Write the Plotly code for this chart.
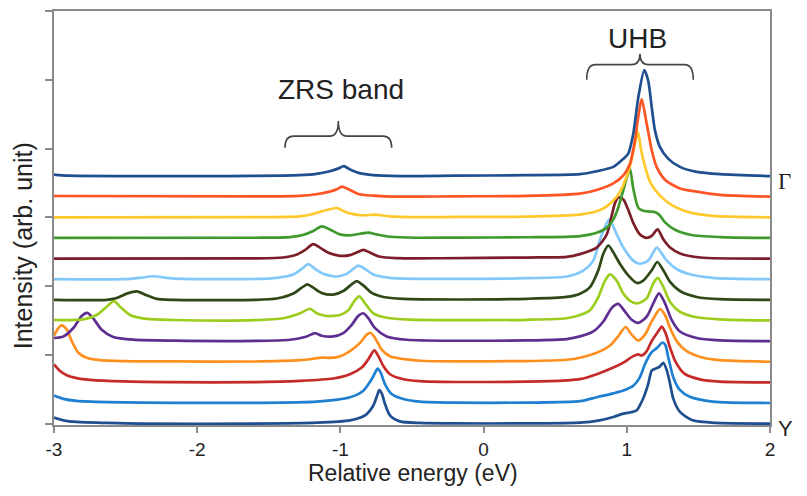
import plotly.graph_objects as go

# ---- data: energies (eV) and intensities above each spectrum's own baseline (arb. unit) ----
# spectra listed from bottom (Y point) to top (Gamma point)
x0 = [-3.0, -2.935, -2.84, -2.63, -2.4, -1.6, -1.165, -0.933, -0.828, -0.77, -0.742, -0.728, -0.71, -0.689, -0.654, -0.584, -0.444, -0.2, 0.3, 0.673, 0.81, 0.906, 0.976, 1.03, 1.07, 1.1, 1.127, 1.15, 1.174, 1.2, 1.23, 1.255, 1.28, 1.3, 1.325, 1.371, 1.46, 1.63, 2.0]
h0 = [0.87, 0.48, 0.24, 0.1, 0, 0, 0.14, 0.48, 1.2, 2.64, 4.18, 4.86, 4.33, 2.89, 1.2, 0.33, 0.1, 0.03, 0.03, 0.14, 0.48, 0.97, 1.45, 1.65, 1.95, 3.0, 4.3, 5.8, 7.7, 8.0, 8.3, 8.85, 7.7, 6.0, 3.6, 1.7, 0.48, 0.1, 0]

x1 = [-3.0, -2.935, -2.842, -2.632, -2.167, -1.6, -1.165, -0.933, -0.84, -0.781, -0.751, -0.74, -0.719, -0.689, -0.642, -0.561, -0.444, -0.2, 0.3, 0.673, 0.79, 0.906, 0.976, 1.045, 1.09, 1.13, 1.17, 1.21, 1.25, 1.27, 1.29, 1.325, 1.37, 1.44, 1.6, 2.0]
h1 = [1.07, 0.6, 0.3, 0.12, 0.02, 0.02, 0.2, 0.84, 1.79, 3.48, 4.68, 5.0, 4.44, 2.76, 1.31, 0.59, 0.2, 0.05, 0.05, 0.26, 0.84, 1.4, 1.8, 2.5, 3.7, 5.8, 7.3, 8.0, 8.8, 8.4, 6.6, 3.7, 1.9, 0.9, 0.2, 0]

x2 = [-3.0, -2.958, -2.911, -2.841, -2.749, -2.516, -2.167, -1.6, -1.282, -1.05, -0.933, -0.851, -0.805, -0.763, -0.735, -0.7, -0.654, -0.561, -0.444, -0.2, 0.3, 0.58, 0.673, 0.79, 0.906, 0.976, 1.045, 1.08, 1.104, 1.139, 1.174, 1.22, 1.244, 1.27, 1.30, 1.34, 1.40, 1.51, 1.65, 2.0]
h2 = [2.6, 1.66, 1.04, 0.61, 0.36, 0.13, 0.03, 0.03, 0.22, 0.56, 1.18, 2.15, 3.35, 4.65, 3.82, 2.38, 1.18, 0.46, 0.17, 0.05, 0.1, 0.29, 0.46, 1.18, 2.15, 2.87, 3.82, 4.07, 3.9, 4.55, 6.0, 7.43, 8.1, 7.2, 5.2, 3.0, 1.3, 0.43, 0.1, 0]

x3 = [-3.0, -2.97, -2.946, -2.911, -2.876, -2.83, -2.772, -2.679, -2.516, -2.167, -1.6, -1.282, -1.2, -1.13, -1.07, -1.0, -0.933, -0.863, -0.816, -0.788, -0.758, -0.712, -0.654, -0.537, -0.444, -0.2, 0.3, 0.58, 0.673, 0.79, 0.883, 0.94, 0.992, 1.034, 1.08, 1.127, 1.174, 1.232, 1.267, 1.302, 1.348, 1.418, 1.534, 1.651, 2.0]
h3 = [3.8, 4.9, 5.3, 4.7, 3.0, 1.3, 0.58, 0.23, 0.09, 0.04, 0.03, 0.23, 0.4, 0.6, 0.55, 0.8, 1.53, 2.74, 3.94, 4.18, 3.46, 1.77, 0.81, 0.33, 0.14, 0.05, 0.1, 0.29, 0.58, 1.3, 2.35, 3.7, 5.05, 3.94, 3.1, 3.94, 5.86, 7.65, 6.8, 4.9, 3.0, 1.53, 0.58, 0.23, 0]

x4 = [-3.0, -2.935, -2.865, -2.807, -2.767, -2.726, -2.667, -2.586, -2.446, -2.167, -1.6, -1.352, -1.235, -1.177, -1.131, -1.05, -0.98, -0.921, -0.875, -0.84, -0.805, -0.758, -0.677, -0.537, -0.2, 0.3, 0.58, 0.673, 0.766, 0.836, 0.894, 0.94, 0.987, 1.034, 1.08, 1.139, 1.185, 1.225, 1.267, 1.313, 1.371, 1.488, 1.651, 2.0]
h4 = [0.45, 0.68, 1.9, 3.65, 4.1, 3.3, 1.65, 0.6, 0.2, 0.06, 0.03, 0.2, 0.68, 1.17, 0.78, 0.68, 1.17, 2.37, 3.67, 4.05, 3.33, 1.89, 0.68, 0.2, 0.05, 0.1, 0.3, 0.68, 1.4, 2.85, 4.8, 5.4, 4.3, 3.1, 2.65, 3.55, 5.5, 6.95, 5.5, 3.1, 1.4, 0.45, 0.1, 0]

x5 = [-3.0, -2.795, -2.702, -2.632, -2.581, -2.539, -2.469, -2.353, -2.167, -1.6, -1.399, -1.282, -1.212, -1.165, -1.096, -1.003, -0.945, -0.898, -0.868, -0.828, -0.77, -0.677, -0.514, -0.2, 0.3, 0.58, 0.673, 0.743, 0.801, 0.848, 0.883, 0.929, 0.976, 1.034, 1.08, 1.139, 1.185, 1.216, 1.255, 1.302, 1.371, 1.488, 1.651, 2.0]
h5 = [0.07, 0.17, 0.8, 2.0, 2.8, 2.0, 0.8, 0.22, 0.07, 0.05, 0.32, 1.04, 1.7, 1.04, 0.65, 0.79, 1.5, 2.96, 3.5, 2.5, 1.04, 0.4, 0.12, 0.05, 0.1, 0.32, 0.8, 1.5, 3.4, 5.8, 6.7, 5.8, 3.9, 2.7, 2.5, 3.2, 5.4, 6.2, 4.9, 2.7, 1.27, 0.46, 0.17, 0]

x6 = [-3.0, -2.632, -2.562, -2.492, -2.422, -2.353, -2.283, -2.167, -1.6, -1.445, -1.329, -1.27, -1.231, -1.19, -1.131, -1.05, -0.98, -0.921, -0.886, -0.84, -0.781, -0.7, -0.561, -0.2, 0.3, 0.58, 0.673, 0.743, 0.801, 0.836, 0.871, 0.906, 0.953, 1.01, 1.07, 1.115, 1.174, 1.213, 1.255, 1.302, 1.371, 1.488, 1.651, 2.0]
h6 = [0.0, 0.0, 0.27, 0.9, 1.24, 0.66, 0.13, 0.0, 0.0, 0.19, 0.91, 1.77, 2.25, 1.77, 1.0, 0.76, 1.28, 2.25, 2.73, 2.1, 1.0, 0.42, 0.13, 0.05, 0.15, 0.42, 0.9, 1.86, 4.3, 6.7, 7.9, 6.9, 5.2, 3.55, 2.45, 2.8, 4.3, 5.5, 4.3, 2.6, 1.28, 0.42, 0.09, 0]

x7 = [-3.0, -2.516, -2.4, -2.306, -2.213, -2.1, -1.6, -1.445, -1.329, -1.27, -1.224, -1.177, -1.119, -1.026, -0.956, -0.91, -0.875, -0.828, -0.77, -0.654, -0.4, 0.0, 0.3, 0.58, 0.696, 0.766, 0.81, 0.845, 0.878, 0.929, 0.976, 1.045, 1.09, 1.15, 1.209, 1.255, 1.28, 1.35, 1.44, 1.6, 2.0]
h7 = [0.0, 0.0, 0.2, 0.43, 0.2, 0.05, 0.03, 0.2, 0.68, 1.5, 2.2, 1.5, 0.78, 0.39, 0.78, 1.5, 1.98, 1.5, 0.68, 0.2, 0.05, 0.05, 0.15, 0.39, 1.25, 2.7, 5.6, 7.5, 8.7, 6.55, 4.6, 2.7, 2.25, 2.7, 4.6, 3.4, 2.7, 1.45, 0.72, 0.2, 0]

x8 = [-3.0, -1.6, -1.401, -1.308, -1.249, -1.19, -1.143, -1.087, -1.003, -0.933, -0.887, -0.84, -0.794, -0.723, -0.607, -0.3, 0.3, 0.58, 0.673, 0.79, 0.86, 0.894, 0.918, 0.94, 0.976, 1.01, 1.045, 1.092, 1.139, 1.174, 1.215, 1.255, 1.302, 1.372, 1.511, 2.0]
h8 = [0, 0.03, 0.16, 0.55, 1.22, 2.1, 1.6, 0.88, 0.4, 0.5, 0.88, 1.27, 0.88, 0.26, 0.07, 0.05, 0.15, 0.26, 0.65, 1.6, 3.5, 6.2, 8.1, 8.9, 8.6, 7.1, 5.2, 3.5, 3.0, 3.3, 4.25, 2.8, 1.6, 0.74, 0.16, 0]

x9 = [-3.0, -1.6, -1.352, -1.262, -1.19, -1.131, -1.073, -1.003, -0.933, -0.863, -0.805, -0.747, -0.654, -0.467, -0.2, 0.3, 0.673, 0.79, 0.86, 0.906, 0.94, 0.976, 0.999, 1.022, 1.045, 1.08, 1.11, 1.15, 1.2, 1.23, 1.265, 1.34, 1.45, 1.65, 2.0]
h9 = [0, 0.03, 0.13, 0.42, 1.0, 1.68, 1.24, 0.52, 0.38, 0.61, 0.78, 0.52, 0.17, 0.03, 0.05, 0.1, 0.27, 0.75, 1.47, 2.7, 4.4, 7.0, 8.7, 10.1, 7.2, 4.4, 4.0, 3.85, 3.75, 3.3, 2.3, 1.15, 0.43, 0.13, 0]

x10 = [-3.0, -1.6, -1.285, -1.192, -1.134, -1.087, -1.024, -0.982, -0.936, -0.843, -0.762, -0.657, -0.47, -0.2, 0.3, 0.673, 0.79, 0.86, 0.93, 0.976, 1.022, 1.057, 1.078, 1.1, 1.13, 1.165, 1.23, 1.32, 1.44, 1.6, 2.0]
h10 = [0, 0.03, 0.14, 0.48, 0.87, 1.1, 1.35, 0.96, 0.58, 0.29, 0.39, 0.14, 0.03, 0.05, 0.1, 0.4, 0.87, 1.6, 3.0, 4.7, 7.4, 10.7, 12.4, 9.8, 7.2, 5.05, 3.2, 1.7, 0.72, 0.22, 0]

x11 = [-3.0, -1.6, -1.285, -1.168, -1.075, -1.024, -0.989, -0.934, -0.876, -0.775, -0.589, -0.2, 0.3, 0.673, 0.79, 0.906, 0.976, 1.022, 1.057, 1.08, 1.104, 1.139, 1.174, 1.209, 1.27, 1.371, 1.488, 1.651, 2.0]
h11 = [0.1, 0.03, 0.11, 0.35, 0.74, 1.07, 1.46, 0.98, 0.4, 0.16, 0.0, 0.05, 0.12, 0.45, 0.98, 1.94, 3.1, 4.8, 8.2, 11.6, 14.2, 10.6, 6.75, 4.3, 2.4, 1.2, 0.74, 0.26, 0]

x12 = [-3.0, -2.9, -1.6, -1.285, -1.168, -1.075, -1.017, -0.976, -0.936, -0.866, -0.773, -0.587, -0.2, 0.3, 0.673, 0.79, 0.906, 0.976, 1.01, 1.045, 1.08, 1.122, 1.15, 1.174, 1.197, 1.232, 1.29, 1.371, 1.488, 1.651, 2.0]
h12 = [0.2, 0.05, 0.03, 0.13, 0.32, 0.7, 1.08, 1.43, 1.0, 0.42, 0.13, 0.0, 0.05, 0.12, 0.27, 0.7, 1.33, 2.5, 3.25, 6.1, 11.4, 15.4, 13.8, 10.0, 6.6, 4.2, 2.5, 1.33, 0.6, 0.27, 0]

energies = [x0, x1, x2, x3, x4, x5, x6, x7, x8, x9, x10, x11, x12]
intensities = [h0, h1, h2, h3, h4, h5, h6, h7, h8, h9, h10, h11, h12]
colors = ['#1f4f8f', '#1f80d2', '#c62a28', '#ff9020', '#5e2f91', '#9ccd1e', '#2f4818',
          '#82c8fb', '#7c1e2a', '#3e9a2c', '#ffc92e', '#ff5424', '#1f4f8f']
OFFSET = 3.0  # vertical stacking step between spectra

x_ticks = [-3, -2, -1, 0, 1, 2]
x_tick_text = ['-3', '-2', '-1', '0', '1', '2']
y_ticks = [0, 10, 20, 30, 40, 50, 60]

FONT = 'Liberation Sans, Arial, sans-serif'
AX = '#8a8a8a'

fig = go.Figure()
for i, (xs, hs) in enumerate(zip(energies, intensities)):
    fig.add_trace(go.Scatter(
        x=xs, y=[v + OFFSET * i for v in hs], mode='lines',
        line=dict(color=colors[i], width=2.7, shape='spline', smoothing=0.7),
        showlegend=False, hoverinfo='skip'))


def brace(xa, xb, y_end, y_bar, y_tip, r):
    xm = (xa + xb) / 2
    return (f'M {xa},{y_end} Q {xa},{y_bar} {xa + r},{y_bar} L {xm - r},{y_bar} '
            f'Q {xm},{y_bar} {xm},{y_tip} Q {xm},{y_bar} {xm + r},{y_bar} '
            f'L {xb - r},{y_bar} Q {xb},{y_bar} {xb},{y_end}')


fig.add_shape(type='path', xref='x', yref='y',
              path=brace(-1.387, -0.642, 40.1, 41.8, 44.0, 0.06),
              line=dict(color='#444444', width=1.6))
fig.add_shape(type='path', xref='x', yref='y',
              path=brace(0.72, 1.464, 50.0, 52.2, 53.8, 0.06),
              line=dict(color='#444444', width=1.6))

fig.add_annotation(x=-0.995, y=48.6, xref='x', yref='y', text='ZRS band', showarrow=False,
                   font=dict(family=FONT, size=28, color='#222222'))
fig.add_annotation(x=1.078, y=56.0, xref='x', yref='y', text='UHB', showarrow=False,
                   font=dict(family=FONT, size=28, color='#222222'))
fig.add_annotation(x=1.008, y=0.587, xref='paper', yref='paper', text='Γ', showarrow=False,
                   xanchor='left', yanchor='middle',
                   font=dict(family='Liberation Serif, Times New Roman, serif', size=23, color='#222222'))
fig.add_annotation(x=1.008, y=-0.008, xref='paper', yref='paper', text='Y', showarrow=False,
                   xanchor='left', yanchor='middle',
                   font=dict(family=FONT, size=22, color='#222222'))
fig.add_annotation(x=-0.044, y=0.433, xref='paper', yref='paper', text='Intensity (arb. unit)',
                   showarrow=False, textangle=-90, xanchor='center', yanchor='middle',
                   font=dict(family=FONT, size=25, color='#222222'))
fig.add_annotation(x=0.501, y=-0.117, xref='paper', yref='paper', text='Relative energy (eV)',
                   showarrow=False, xanchor='center', yanchor='middle',
                   font=dict(family=FONT, size=23, color='#222222'))

fig.update_xaxes(range=[-3, 2], tickvals=x_ticks, ticktext=x_tick_text, ticks='outside', ticklen=6,
                 tickwidth=1.5, tickcolor=AX, showline=True, linecolor=AX, linewidth=1.6, mirror=True,
                 showgrid=False, zeroline=False, tickfont=dict(family=FONT, size=19, color='#222222'))
fig.update_yaxes(range=[-0.2, 60], tickvals=y_ticks, showticklabels=False, ticks='outside', ticklen=7,
                 tickwidth=1.5, tickcolor=AX, showline=True, linecolor=AX, linewidth=1.6, mirror=True,
                 showgrid=False, zeroline=False)

# page body has an 8px margin; figure sized to fit the window without overflow,
# with the plot area at x 54-770, y 9-425 of the window
fig.update_layout(width=791, height=480, margin=dict(l=46, r=29, t=1, b=63),
                  plot_bgcolor='white', paper_bgcolor='white')

fig.write_html('out.html')
